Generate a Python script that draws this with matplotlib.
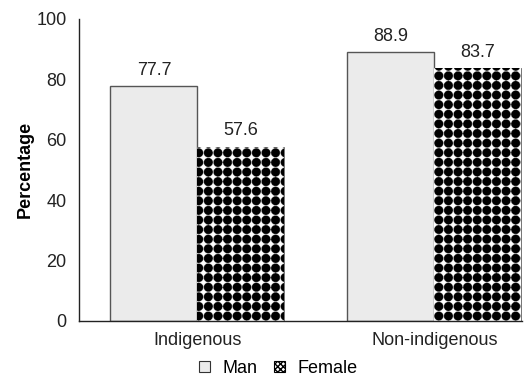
import matplotlib
matplotlib.use("Agg")
import matplotlib.pyplot as plt
from matplotlib.patches import Patch
import numpy as np

plt.rcParams['font.family'] = ['Liberation Sans', 'DejaVu Sans']

groups = ['Indigenous', 'Non-indigenous']
man = [77.7, 88.9]
female = [57.6, 83.7]

fig = plt.figure(figsize=(5.3, 3.78), dpi=100)
ax = fig.add_axes([0.149, 0.151, 0.836, 0.799])

x = np.arange(len(groups))
w = 0.367
xlim = (-0.5, 1.37)
ylim = (0, 100)

b1 = ax.bar(x - w / 2, man, w, color='#ebebeb', edgecolor='#555555', linewidth=1.0)
b2 = ax.bar(x + w / 2, female, w, color='black', edgecolor='#777777', linewidth=0.6)

# dotted fill for the Female bars: black disks on a square grid, clipped to each bar
ax_w, ax_h = 443, 302
ss = 3  # samples per pixel
period = 9.6
jj, ii = np.meshgrid(np.arange(ax_w * ss) / ss, np.arange(ax_h * ss) / ss)
dx = (jj % period) - period / 2
dy = (ii % period) - period / 2
pattern = (np.hypot(dx, dy) > period * 0.47).astype(float)
for rect in b2:
    im = ax.imshow(pattern, cmap='gray', vmin=0, vmax=1, extent=(*xlim, *ylim),
                   origin='lower', aspect='auto', interpolation='antialiased', zorder=1.5)
    im.set_clip_path(rect)

for rect, v in zip(list(b1) + list(b2), man + female):
    ax.text(rect.get_x() + rect.get_width() / 2, v + 2.5, f'{v:.1f}',
            ha='center', va='bottom', fontsize=13, color='#222222')

ax.set_xlim(*xlim)
ax.set_ylim(*ylim)
ax.set_yticks(range(0, 101, 20))
ax.set_xticks(x)
ax.set_xticklabels(groups)
ax.tick_params(axis='y', length=0, labelsize=13, colors='#222222', pad=9)
ax.tick_params(axis='x', length=0, labelsize=13, colors='#222222', pad=8)
ax.set_ylabel('Percentage', fontsize=13, fontweight='bold', labelpad=2)
for s in ['top', 'right']:
    ax.spines[s].set_visible(False)
for s in ['left', 'bottom']:
    ax.spines[s].set_color('#222222')
    ax.spines[s].set_linewidth(1.0)

handles = [Patch(facecolor='#ebebeb', edgecolor='#333333', linewidth=0.8, label='Man'),
           Patch(facecolor='white', edgecolor='black', hatch='xxxxxx', linewidth=0.8, label='Female')]
fig.legend(handles=handles, loc='lower center', bbox_to_anchor=(0.525, -0.04), ncol=2,
           frameon=False, fontsize=13, handlelength=0.6, handleheight=0.6,
           handletextpad=0.7, columnspacing=0.9)

fig.savefig('out.png', dpi=100)
